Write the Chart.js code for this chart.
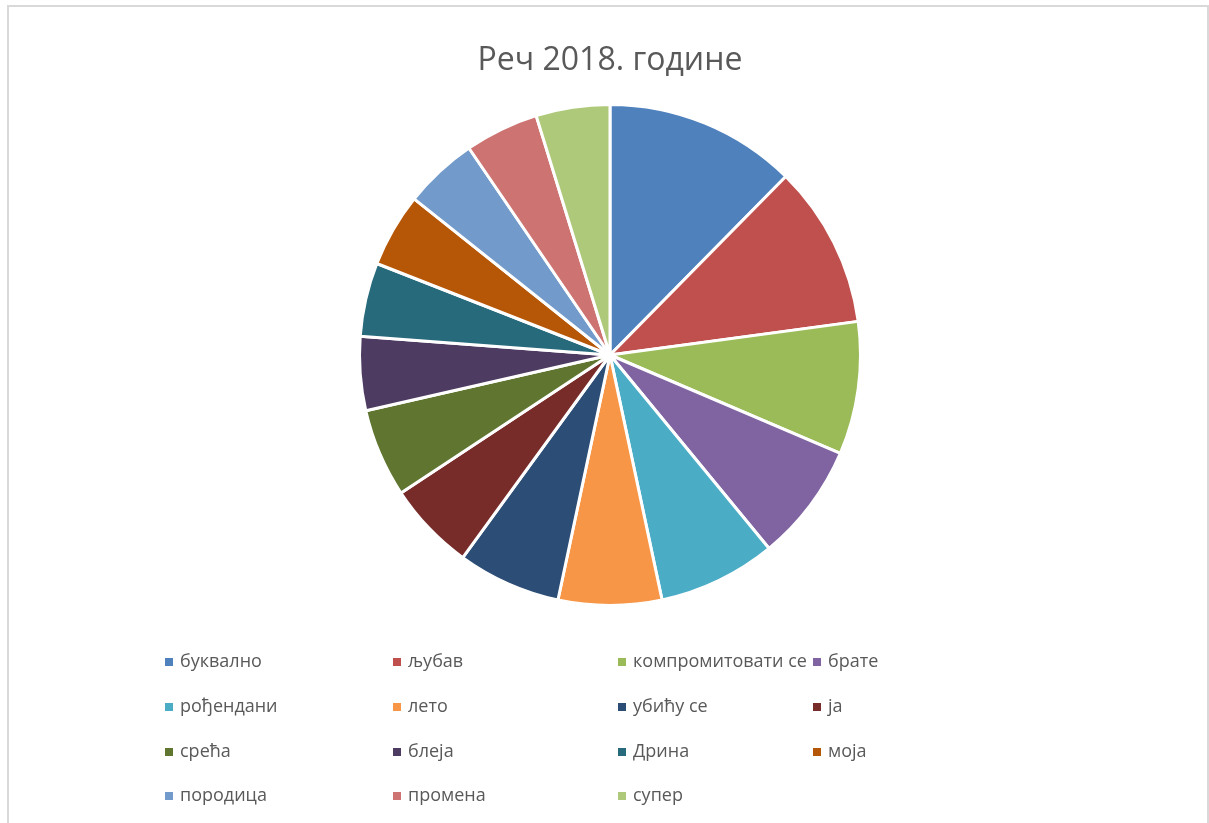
<!DOCTYPE html>
<html>
<head>
<meta charset="utf-8">
<script src="https://cdn.jsdelivr.net/npm/chart.js@4/dist/chart.umd.min.js"></script>
<style>
  body { margin: 0; background: #fff; }
  #wrap { position: relative; width: 1209px; height: 823px; }
</style>
</head>
<body>
<div id="wrap"><canvas id="chart" width="1209" height="823"></canvas></div>
<script>
var labels = ['буквално', 'љубав', 'компромитовати се', 'брате', 'рођендани', 'лето', 'убићу се', 'ја',
              'срећа', 'блеја', 'Дрина', 'моја', 'породица', 'промена', 'супер'];
var counts = [13, 11, 9, 8, 8, 7, 7, 6, 6, 5, 5, 5, 5, 5, 5];
var colors = ['#4F81BD', '#C0504D', '#9BBB59', '#8064A2', '#4BACC6', '#F79646', '#2C4D75', '#772C2A',
              '#5F7530', '#4D3B62', '#276A7C', '#B65708', '#729ACA', '#CD7371', '#AFC97A'];
var chartTitle = 'Реч 2018. године';

// raspored legende (4 kolone)
var legendCols = [165, 393, 618, 813];
var legendRows = [662, 707, 752, 796];

var extras = {
    id: 'extras',
    beforeDraw: function(chart) {
        var ctx = chart.ctx;
        ctx.save();
        ctx.fillStyle = '#fff';
        ctx.fillRect(0, 0, chart.width, chart.height);
        ctx.strokeStyle = '#d9d9d9';
        ctx.lineWidth = 2;
        ctx.strokeRect(8, 6, 1200, 830);
        ctx.restore();
    },
    afterDraw: function(chart) {
        var ctx = chart.ctx;
        ctx.save();
        ctx.fillStyle = '#595959';
        ctx.font = '32px "Open Sans"';
        ctx.textAlign = 'center';
        ctx.textBaseline = 'alphabetic';
        ctx.fillText(chartTitle, 610, 70);

        ctx.font = '18px "Open Sans"';
        ctx.textAlign = 'left';
        ctx.textBaseline = 'middle';
        chart.data.labels.forEach(function(lbl, i) {
            var x = legendCols[i % 4];
            var y = legendRows[Math.floor(i / 4)];
            ctx.fillStyle = chart.data.datasets[0].backgroundColor[i];
            ctx.fillRect(x, y - 4, 8, 8);
            ctx.fillStyle = '#595959';
            ctx.fillText(lbl, x + 15, y);
        });
        ctx.restore();
    }
};

new Chart(document.getElementById('chart').getContext('2d'), {
    type: 'pie',
    data: {
        labels: labels,
        datasets: [{
            data: counts,
            backgroundColor: colors,
            borderColor: '#fff',
            borderWidth: 3,
            hoverOffset: 0
        }]
    },
    options: {
        responsive: false,
        animation: false,
        layout: {
            padding: { left: 357, right: 346, top: 103, bottom: 216 }
        },
        plugins: {
            legend: { display: false },
            title: { display: false },
            tooltip: { enabled: false }
        }
    },
    plugins: [extras]
});
</script>
</body>
</html>
